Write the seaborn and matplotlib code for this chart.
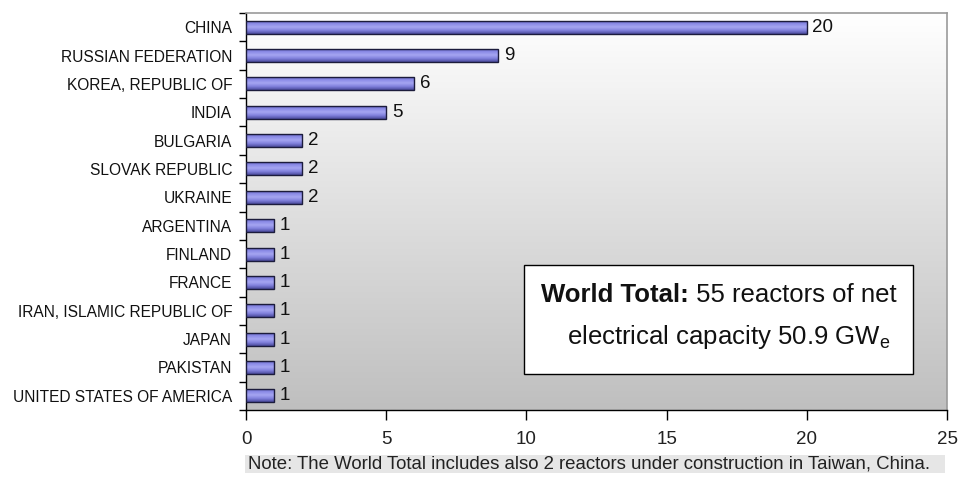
import numpy as np
import pandas as pd
import matplotlib
matplotlib.use("Agg")
import matplotlib.pyplot as plt
from matplotlib.colors import LinearSegmentedColormap
from matplotlib.patches import Rectangle
import seaborn as sns

countries = ["CHINA", "RUSSIAN FEDERATION", "KOREA, REPUBLIC OF", "INDIA", "BULGARIA",
             "SLOVAK REPUBLIC", "UKRAINE", "ARGENTINA", "FINLAND", "FRANCE",
             "IRAN, ISLAMIC REPUBLIC OF", "JAPAN", "PAKISTAN", "UNITED STATES OF AMERICA"]
reactors = [20, 9, 6, 5, 2, 2, 2, 1, 1, 1, 1, 1, 1, 1]
x_ticks = [0, 5, 10, 15, 20, 25]
box_bold = "World Total:"
box_rest1 = " 55 reactors of net"
box_line2 = "electrical capacity 50.9 GW$_\\mathregular{e}$"
note_text = "Note: The World Total includes also 2 reactors under construction in Taiwan, China."

df = pd.DataFrame({"country": countries, "reactors": reactors})

sns.set_theme(style="white")
plt.rcParams["font.family"] = ["Liberation Sans", "DejaVu Sans"]

W, H = 959, 479
fig = plt.figure(figsize=(W / 100, H / 100), dpi=100)
fig.patch.set_facecolor("white")

L, R, T, B = 246, 947, 13, 410
pos = [L / W, 1 - B / H, (R - L) / W, (B - T) / H]

# background gradient axes
bg = fig.add_axes(pos, zorder=0)
grad = np.linspace(0, 1, 256).reshape(-1, 1)
bg_cmap = LinearSegmentedColormap.from_list("bg", ["#ffffff", "#bfbfbf"])
bg.imshow(grad, aspect="auto", cmap=bg_cmap, extent=[0, 1, 1, 0])
bg.set_axis_off()

ax = fig.add_axes(pos, zorder=1)
ax.set_facecolor("none")

sns.barplot(data=df, y="country", x="reactors", orient="h", width=0.46,
            color="#7f7fdc", edgecolor="#1c1c3c", linewidth=1.0, ax=ax, zorder=3)

# gradient fill for bars
bar_cmap = LinearSegmentedColormap.from_list("bar", ["#5a5ab4", "#8a8ae6", "#a6a6f2", "#8080dc", "#4a4a9a"])
bgrad = np.linspace(0, 1, 64).reshape(-1, 1)
for p in ax.containers[0]:
    x0, y0 = p.get_x(), p.get_y()
    w, h = p.get_width(), p.get_height()
    im = ax.imshow(bgrad, cmap=bar_cmap, aspect="auto",
                   extent=[x0, x0 + w, y0 + h, y0], zorder=2.9, interpolation="bilinear")
    im.set_clip_path(p)
    p.set_facecolor("none")

ax.bar_label(ax.containers[0], padding=4, fontsize=13.5, color="#111111")

ax.set_xlim(0, 25)
ax.set_ylim(len(countries) - 0.5, -0.5)
ax.set_xticks(x_ticks)
ax.set_xticklabels([str(t) for t in x_ticks], fontsize=13.5, color="#222222")
ax.tick_params(axis="x", bottom=True, direction="out", length=7, width=1, color="black", pad=8)
ax.tick_params(axis="y", which="major", left=True, length=0, pad=10, labelsize=11.2, labelcolor="#111111")
ax.set_yticks(np.arange(-0.5, len(countries), 1.0), minor=True)
ax.tick_params(axis="y", which="minor", left=True, direction="out", length=5, width=1, color="black")
ax.set_xlabel("")
ax.set_ylabel("")
ax.grid(False)
for s in ["left", "bottom"]:
    ax.spines[s].set_color("black")
    ax.spines[s].set_linewidth(1.0)
for s in ["top", "right"]:
    ax.spines[s].set_color("#9a9a9a")
    ax.spines[s].set_linewidth(1.2)
ax.set_xlim(0, 25)

# World total box
fig.patches.append(Rectangle((524 / W, 1 - 374 / H), (913 - 524) / W, (374 - 265) / H,
                             transform=fig.transFigure, facecolor="white",
                             edgecolor="black", linewidth=1.0, zorder=5))
FS = 18.5
t1 = fig.text(541 / W, 1 - 302 / H, box_bold, fontsize=FS, fontweight="bold",
              ha="left", va="baseline", zorder=6, color="#111111")
fig.canvas.draw()
bb = t1.get_window_extent(renderer=fig.canvas.get_renderer())
fig.text(bb.x1 / W, 1 - 302 / H, box_rest1, fontsize=FS, ha="left", va="baseline",
         zorder=6, color="#111111")
fig.text(729 / W, 1 - 344 / H, box_line2, fontsize=FS, ha="center", va="baseline",
         zorder=6, color="#111111")

# note
fig.patches.append(Rectangle((245 / W, 1 - 473 / H), (945 - 245) / W, (473 - 455) / H,
                             transform=fig.transFigure, facecolor="#e6e6e6",
                             edgecolor="none", zorder=1))
fig.text(248 / W, 1 - 464 / H, note_text, fontsize=13.4, ha="left", va="center",
         color="#222222", zorder=2)

fig.savefig("out.png", dpi=100)
